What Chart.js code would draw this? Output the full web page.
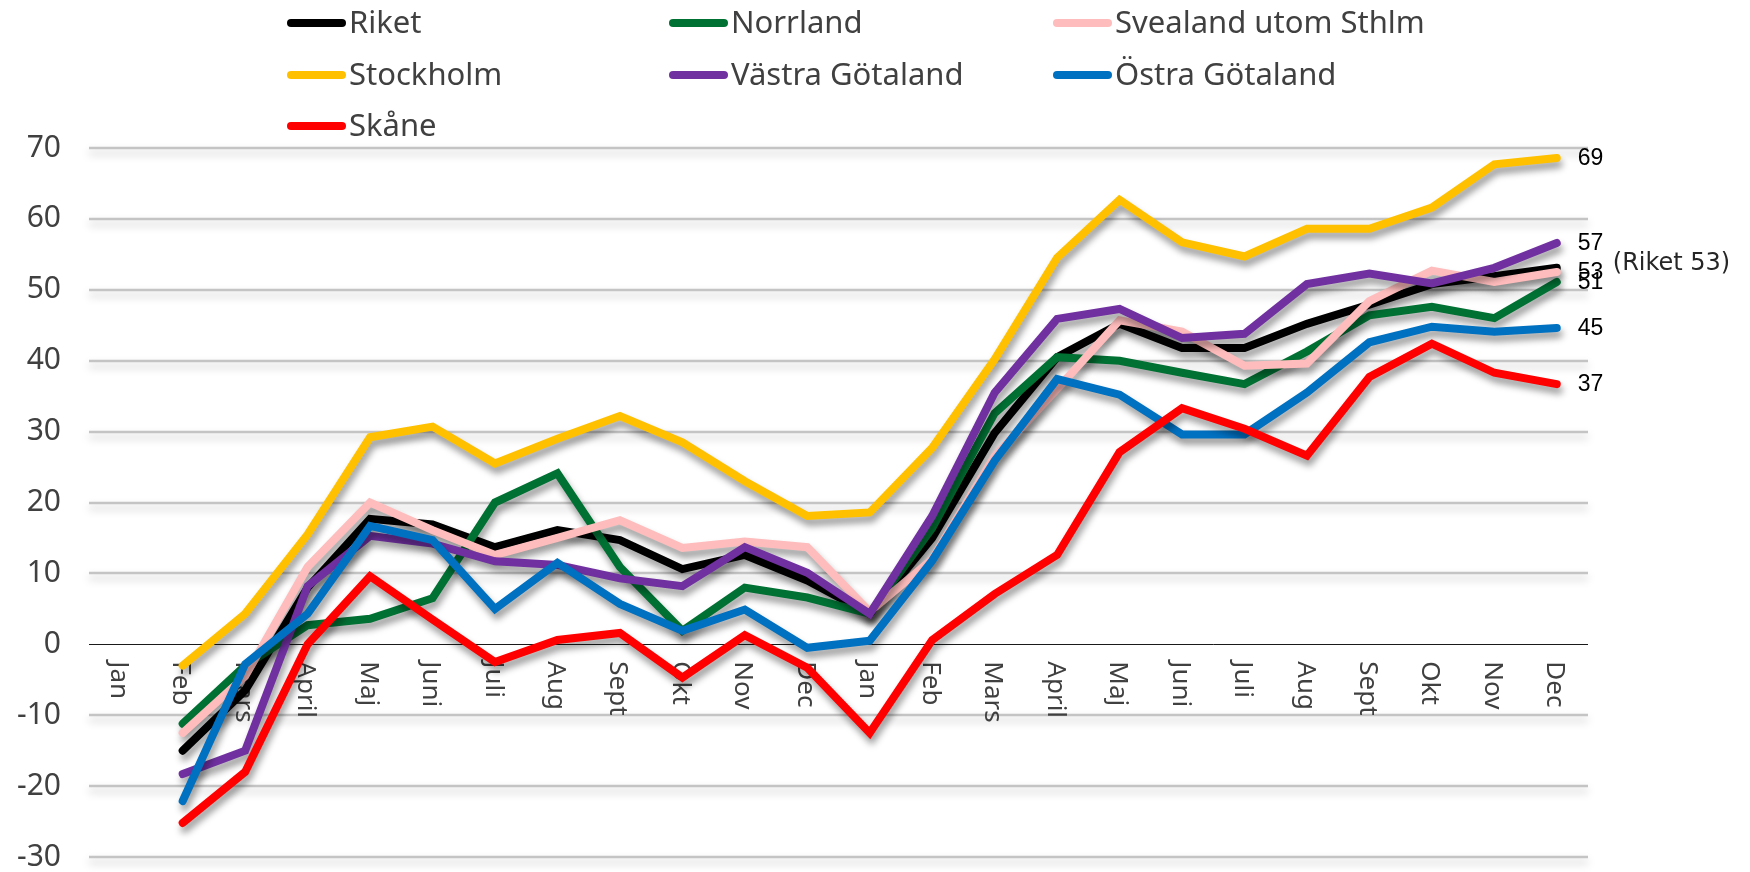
<!DOCTYPE html>
<html>
<head>
<meta charset="utf-8">
<script src="https://cdn.jsdelivr.net/npm/chart.js@4/dist/chart.umd.min.js"></script>
<style>
  html, body { margin: 0; padding: 0; background: #ffffff; }
  #wrap { width: 1750px; height: 872px; position: relative; }
</style>
</head>
<body>
<div id="wrap"><canvas id="c" width="1750" height="872"></canvas></div>
<script>
// ---- data ----
const categories = ['Jan','Feb','Mars','April','Maj','Juni','Juli','Aug','Sept','Okt','Nov','Dec',
                    'Jan','Feb','Mars','April','Maj','Juni','Juli','Aug','Sept','Okt','Nov','Dec'];
const seriesNames = ['Riket','Norrland','Svealand utom Sthlm','Stockholm','Västra Götaland','Östra Götaland','Skåne'];
const seriesColors = ['#000000','#007033','#ffbcbc','#ffc000','#7030a0','#0070c0','#ff0000'];
const riket     = [null,-15,-6.5,8,17.7,16.9,13.7,16.1,14.7,10.6,12.6,9,4.3,15,29.8,40.5,45.2,41.8,41.8,45.2,47.9,50.8,51.9,53.1];
const norrland  = [null,-11.2,-3,2.7,3.6,6.5,20,24.1,10.9,1.9,8,6.6,4.3,16.4,32.6,40.5,40,38.3,36.7,41.3,46.4,47.6,46,51.1];
const svealand  = [null,-12.5,-4.5,10.9,20,16.1,12.6,15,17.5,13.6,14.5,13.7,4.6,12,26.5,36,45.7,44.1,39.3,39.6,48.4,52.7,51.1,52.5];
const stockholm = [null,-3,4.3,15.5,29.2,30.7,25.5,29,32.2,28.5,23,18.1,18.6,27.7,40.2,54.5,62.7,56.7,54.7,58.6,58.6,61.6,67.7,68.6];
const vastra    = [null,-18.3,-15,8.2,15.3,14.2,11.7,11.2,9.3,8.2,13.7,10.1,4.3,18.1,35.5,45.9,47.3,43.2,43.8,50.8,52.3,50.9,53.1,56.6];
const ostra     = [null,-22.1,-2.8,4.3,16.7,14.7,5,11.5,5.7,1.9,4.9,-0.5,0.5,11.8,25.9,37.4,35.2,29.6,29.6,35.5,42.6,44.8,44.1,44.6];
const skane     = [null,-25.2,-18,0,9.6,3.5,-2.5,0.6,1.6,-4.7,1.3,-3.3,-12.5,0.6,7.1,12.6,27.1,33.3,30.4,26.6,37.7,42.4,38.3,36.7];
const seriesValues = [riket, norrland, svealand, stockholm, vastra, ostra, skane];
const endLabels = ['(Riket 53)','51','53','69','57','45','37'];
const yMin = -30, yMax = 70, yStep = 10;

const TEXT = '#404040';

const datasets = seriesNames.map((name, i) => ({
  label: name,
  data: seriesValues[i],
  borderColor: seriesColors[i],
  backgroundColor: seriesColors[i],
  borderWidth: 8,
  pointRadius: 0,
  tension: 0,
  fill: false,
  spanGaps: false,
  borderJoinStyle: 'miter',
  borderCapStyle: 'round',
  order: seriesNames.length - i
}));

const gridPlugin = {
  id: 'shadowGrid',
  beforeDatasetsDraw(chart) {
    const ctx = chart.ctx, ys = chart.scales.y, xs = chart.scales.x, a = chart.chartArea;
    ys.ticks.forEach(t => {
      const y = Math.round(ys.getPixelForValue(t.value));
      ctx.save();
      if (t.value === 0) {
        ctx.strokeStyle = '#1a1a1a';
        ctx.lineWidth = 1;
        ctx.beginPath(); ctx.moveTo(a.left, y + 0.5); ctx.lineTo(a.right, y + 0.5); ctx.stroke();
      } else {
        ctx.shadowColor = 'rgba(0,0,0,0.25)';
        ctx.shadowBlur = 8;
        ctx.shadowOffsetY = 5;
        ctx.strokeStyle = '#c4c4c4';
        ctx.lineWidth = 2.5;
        ctx.beginPath(); ctx.moveTo(a.left, y); ctx.lineTo(a.right, y); ctx.stroke();
      }
      ctx.restore();
    });
    // category labels, rotated, placed just under the zero line
    const y0 = ys.getPixelForValue(0) + 17;
    ctx.save();
    ctx.fillStyle = TEXT;
    ctx.font = '26px "Noto Sans"';
    ctx.textAlign = 'left';
    ctx.textBaseline = 'middle';
    categories.forEach((lab, i) => {
      const x = xs.getPixelForValue(i);
      ctx.save();
      ctx.translate(x - 2, y0);
      ctx.rotate(Math.PI / 2);
      ctx.fillText(lab, 0, 0);
      ctx.restore();
    });
    ctx.restore();
  },
  beforeDatasetDraw(chart) {
    const ctx = chart.ctx;
    ctx.save();
    ctx.shadowColor = 'rgba(0,0,0,0.4)';
    ctx.shadowBlur = 7;
    ctx.shadowOffsetX = 2;
    ctx.shadowOffsetY = 6;
  },
  afterDatasetDraw(chart) {
    chart.ctx.restore();
  },
  afterDatasetsDraw(chart) {
    const ctx = chart.ctx;
    ctx.save();
    ctx.textAlign = 'left';
    ctx.textBaseline = 'middle';
    chart.data.datasets.forEach((ds, i) => {
      const meta = chart.getDatasetMeta(i);
      const pt = meta.data[meta.data.length - 1];
      const txt = endLabels[i];
      if (!txt) return;
      if (i === 0) {
        ctx.font = '24px "DejaVu Sans", sans-serif';
        ctx.fillStyle = '#262626';
        ctx.fillText(txt, pt.x + 56, pt.y - 4);
      } else {
        ctx.font = '23px "Liberation Sans", Arial, sans-serif';
        ctx.fillStyle = '#000000';
        ctx.fillText(txt, pt.x + 21, pt.y + 1);
      }
    });
    ctx.restore();
  },
  afterDraw(chart) {
    // legend in three columns
    const ctx = chart.ctx;
    const colX = [287, 669, 1053];
    const rowY = [23, 75, 126];
    ctx.save();
    ctx.font = '31px "Noto Sans"';
    ctx.textAlign = 'left';
    ctx.textBaseline = 'middle';
    chart.data.datasets.forEach((ds, i) => {
      const x = colX[i % 3], y = rowY[Math.floor(i / 3)];
      ctx.strokeStyle = ds.borderColor;
      ctx.lineWidth = 8;
      ctx.lineCap = 'round';
      ctx.beginPath(); ctx.moveTo(x + 4, y); ctx.lineTo(x + 55, y); ctx.stroke();
      ctx.fillStyle = TEXT;
      ctx.fillText(ds.label, x + 62, y + 1);
    });
    ctx.restore();
  }
};

new Chart(document.getElementById('c'), {
  type: 'line',
  data: { labels: categories, datasets },
  options: {
    responsive: false,
    animation: false,
    events: [],
    layout: { padding: { top: 148, right: 162, bottom: 15, left: 0 } },
    plugins: { legend: { display: false }, tooltip: { enabled: false }, title: { display: false } },
    scales: {
      x: {
        type: 'category',
        offset: true,
        display: false
      },
      y: {
        min: yMin, max: yMax,
        afterFit(s) { s.width = 89; },
        border: { display: false },
        grid: { display: false, drawTicks: true, tickLength: 28 },
        ticks: {
          stepSize: yStep,
          padding: 0,
          color: TEXT,
          font: { family: 'Noto Sans', size: 30, lineHeight: 1 }
        }
      }
    }
  },
  plugins: [gridPlugin]
});
</script>
</body>
</html>
